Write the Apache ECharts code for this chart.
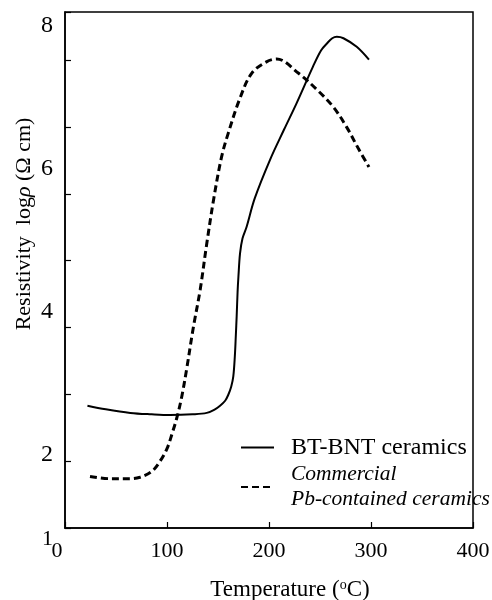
<!DOCTYPE html>
<html>
<head>
<meta charset="utf-8">
<script src="https://cdn.jsdelivr.net/npm/echarts@6/dist/echarts.min.js"></script>
<style>
  html, body { margin: 0; padding: 0; background: #fff; }
  #chart { width: 492px; height: 600px; }
</style>
</head>
<body>
<div id="chart"></div>
<script>
// BT-BNT ceramics (solid)
var bntTemp = [22, 40, 64, 85, 103, 125, 139, 147, 152, 157, 160, 163, 165, 166.5, 167.5, 168.3, 169.2, 170, 171.6, 174, 178, 186, 201, 215, 227, 243, 251, 257, 262, 266.5, 273, 286, 298];
var bntLogRho = [2.71, 2.66, 2.61, 2.59, 2.58, 2.59, 2.61, 2.66, 2.71, 2.78, 2.86, 2.98, 3.12, 3.4, 3.7, 3.96, 4.3, 4.51, 4.84, 5.05, 5.21, 5.61, 6.15, 6.58, 6.94, 7.45, 7.68, 7.78, 7.85, 7.87, 7.85, 7.73, 7.55];
// Commercial Pb-contained ceramics (dashed)
var pbTemp = [24.5, 44, 64, 73.5, 85, 93, 100, 105, 110, 114.5, 119, 126, 132.5, 139, 146, 153.5, 160, 171.5, 183, 197.5, 207.5, 229, 247, 263, 276, 287.5, 298];
var pbLogRho = [1.72, 1.69, 1.69, 1.71, 1.79, 1.93, 2.11, 2.32, 2.56, 2.84, 3.2, 3.82, 4.33, 4.98, 5.62, 6.19, 6.52, 7.01, 7.36, 7.52, 7.56, 7.36, 7.13, 6.89, 6.61, 6.31, 6.05];

var seriesNames = ['BT-BNT ceramics', 'Commercial\nPb-contained ceramics'];
var xTicks = [0, 100, 200, 300, 400];
var yLabels = [1, 2, 4, 6, 8];

function zip(xs, ys) {
  var out = [];
  for (var i = 0; i < xs.length; i++) {
    out.push([xs[i], ys[i]]);
  }
  return out;
}

var font = 'Liberation Serif';
var chart = echarts.init(document.getElementById('chart'));

var option = {
  backgroundColor: '#fff',
  animation: false,
  textStyle: { fontFamily: font, color: '#000' },
  grid: {
    left: 65, right: 19, top: 12, bottom: 72,
    outerBoundsMode: 'none',
    show: true, borderColor: '#000', borderWidth: 1.5
  },
  legend: {
    orient: 'vertical',
    left: 240,
    top: 435,
    padding: 0,
    itemGap: 2,
    itemWidth: 33,
    itemHeight: 14,
    itemStyle: { color: 'rgba(0,0,0,0)', borderWidth: 0 },
    textStyle: {
      fontFamily: font, fontSize: 24, color: '#000',
      lineHeight: 25, padding: [0, 0, 0, 12]
    },
    data: [
      { name: seriesNames[0] },
      { name: seriesNames[1], textStyle: { fontStyle: 'italic', fontSize: 21.5 } }
    ]
  },
  xAxis: {
    type: 'value',
    min: 0, max: 400, interval: 100,
    name: 'Temperature ({sup|o}C)',
    nameLocation: 'middle',
    nameGap: 50,
    nameTextStyle: {
      fontFamily: font, fontSize: 23, color: '#000',
      padding: [0, 0, 0, 42],
      rich: { sup: { fontFamily: font, fontSize: 14, padding: [0, 0, 10, 0] } }
    },
    axisLine: { lineStyle: { color: '#000', width: 1.5 } },
    axisTick: { inside: true, length: 6, lineStyle: { color: '#000', width: 1.2 } },
    axisLabel: {
      fontFamily: font, fontSize: 22, color: '#000', margin: 12,
      formatter: function (v) {
        if (xTicks.indexOf(v) < 0) return '';
        return v === 0 ? '{zero|0}' : String(v);
      },
      rich: { zero: { fontFamily: font, fontSize: 22, padding: [0, 16, 0, 0] } }
    },
    splitLine: { show: false }
  },
  yAxis: [
    {
      type: 'value',
      min: 1, max: 8.217, interval: 1,
      name: 'Resistivity  log{it|ρ} (Ω cm)',
      nameLocation: 'middle',
      nameGap: 30,
      nameMoveOverlap: false,
      nameRotate: 90,
      nameTextStyle: {
        fontFamily: font, fontSize: 22, color: '#000',
        padding: [0, 0, 0, 92],
        rich: { it: { fontFamily: font, fontSize: 22, fontStyle: 'italic' } }
      },
      axisLine: { lineStyle: { color: '#000', width: 1.5 } },
      axisTick: { show: false },
      axisLabel: {
        fontFamily: font, fontSize: 24, color: '#000', margin: 12,
        formatter: function (v) {
          if (yLabels.indexOf(v) < 0) return '';
          return v === 1 ? '{one|1}' : '{n|' + v + '}';
        },
        rich: {
          one: { fontFamily: font, fontSize: 22, padding: [22, 0, 0, 0] },
          n: { fontFamily: font, fontSize: 24, padding: [0, 0, 4, 0] }
        }
      },
      splitLine: { show: false }
    },
    {
      type: 'value',
      position: 'left',
      min: 0, max: 7.72, interval: 1,
      axisLine: { show: false },
      axisTick: { show: true, inside: true, length: 6, lineStyle: { color: '#000', width: 1.2 } },
      axisLabel: { show: false },
      splitLine: { show: false }
    }
  ],
  series: [
    {
      name: seriesNames[0],
      type: 'line',
      yAxisIndex: 0,
      data: zip(bntTemp, bntLogRho),
      symbol: 'none',
      smooth: 0.35,
      lineStyle: { color: '#000', width: 2, type: 'solid' },
      itemStyle: { color: '#000' }
    },
    {
      name: seriesNames[1],
      type: 'line',
      yAxisIndex: 0,
      data: zip(pbTemp, pbLogRho),
      symbol: 'none',
      smooth: 0.35,
      lineStyle: { color: '#000', width: 3, type: [7, 4] },
      itemStyle: { color: '#000' }
    }
  ]
};

chart.setOption(option);
</script>
</body>
</html>
